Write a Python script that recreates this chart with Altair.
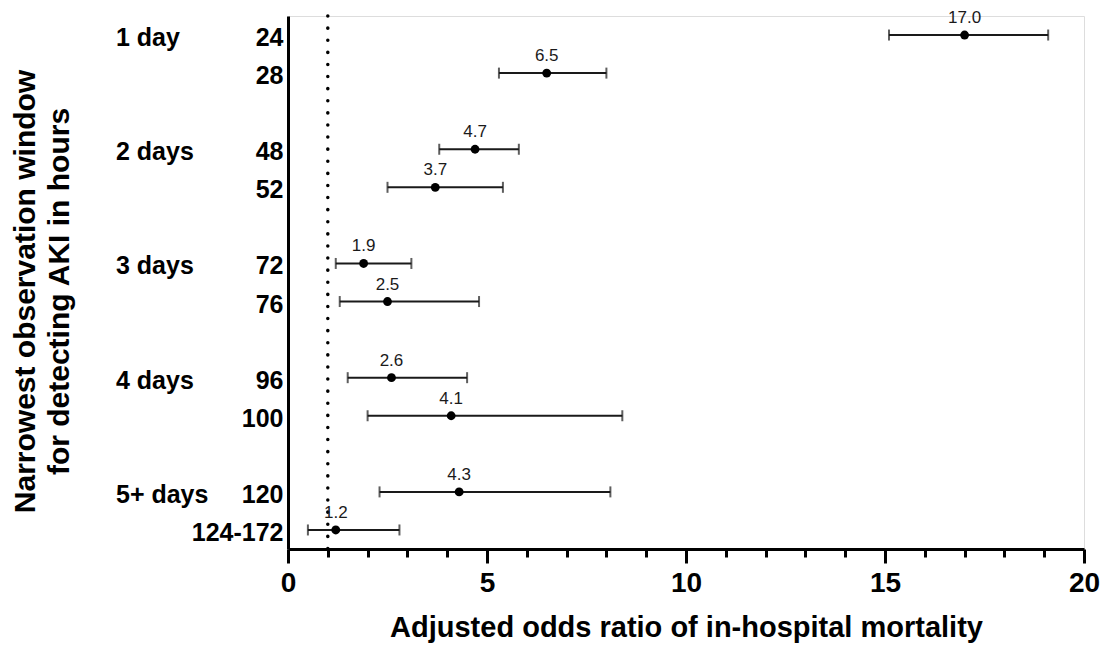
import altair as alt
import pandas as pd

hours = ["24", "28", "48", "52", "72", "76", "96", "100", "120", "124-172"]
odds = [17.0, 6.5, 4.7, 3.7, 1.9, 2.5, 2.6, 4.1, 4.3, 1.2]
lo = [15.1, 5.3, 3.8, 2.5, 1.2, 1.3, 1.5, 2.0, 2.3, 0.5]
hi = [19.1, 8.0, 5.8, 5.4, 3.1, 4.8, 4.5, 8.4, 8.1, 2.8]
row_order = ["24", "28", " ", "48", "52", "  ", "72", "76", "   ", "96", "100", "    ", "120", "124-172"]
group_names = ["1 day", "2 days", "3 days", "4 days", "5+ days"]
group_rows = ["24", "48", "72", "96", "120"]
ref_value = [1]

FONT = "Liberation Sans"

df = pd.DataFrame({"hours": hours, "or": odds, "lo": lo, "hi": hi})
gdf = pd.DataFrame({"name": group_names, "hours": group_rows})
rdf = pd.DataFrame({"x": ref_value})

xscale = alt.Scale(domain=[0, 20], nice=False, zero=True)
yscale = alt.Scale(domain=row_order, paddingInner=0, paddingOuter=0)

x_axis = alt.Axis(
    values=list(range(21)),
    labelExpr="datum.value % 5 === 0 ? datum.label : ''",
    tickSize={"condition": {"test": "datum.value % 5 === 0", "value": 14}, "value": 8},
    tickWidth=3, tickColor="black",
    domainWidth=3, domainColor="black",
    labelFont=FONT, labelFontSize=28, labelFontWeight="bold", labelColor="black",
    labelPadding=6, labelFlush=False,
    title="Adjusted odds ratio of in-hospital mortality",
    titleFont=FONT, titleFontSize=29, titleFontWeight="bold", titleColor="black",
    titlePadding=16, grid=False,
)
y_axis = alt.Axis(
    ticks=False, domainWidth=3, domainColor="black",
    labelFont=FONT, labelFontSize=25, labelFontWeight="bold", labelColor="black",
    labelPadding=5, labelOffset=3,
    title=["Narrowest observation window", "for detecting  AKI in hours"],
    titleFont=FONT, titleFontSize=30, titleFontWeight="bold", titleColor="black",
    titleAngle=-90, titleAlign="center", titleBaseline="top",
    titleX=-278, titleY=275, titleLineHeight=34, grid=False,
)

def X(field):
    return alt.X(field, type="quantitative", scale=xscale, axis=x_axis)

def Y():
    return alt.Y("hours:N", scale=yscale, axis=y_axis, sort=row_order)

base = alt.Chart(df)

ref = alt.Chart(rdf).mark_rule(
    color="black", strokeWidth=3.5, strokeDash=[0.1, 12], strokeCap="round"
).encode(x=X("x"))

bars = base.mark_rule(color="#1a1a1a", strokeWidth=2).encode(x=X("lo"), x2="hi:Q", y=Y())
cap_lo = base.mark_tick(color="#1a1a1a", thickness=2, size=11).encode(x=X("lo"), y=Y())
cap_hi = base.mark_tick(color="#1a1a1a", thickness=2, size=11).encode(x=X("hi"), y=Y())
pts = base.mark_point(filled=True, color="black", size=78, opacity=1).encode(x=X("or"), y=Y())
vals = base.mark_text(font=FONT, fontSize=17, color="#1a1a1a", dy=-17).encode(
    x=X("or"), y=Y(), text=alt.Text("or:Q", format=".1f")
)
groups = alt.Chart(gdf).mark_text(
    font=FONT, fontSize=25, fontWeight="bold", color="black", align="left", dy=3
).encode(x=alt.value(-172), y=Y(), text="name:N")

chart = alt.layer(ref, bars, cap_lo, cap_hi, pts, vals, groups).properties(
    width=796, height=533,
    autosize=alt.AutoSizeParams(type="none"),
    padding={"left": 280, "top": 8, "right": 22, "bottom": 98},
).configure_view(stroke=None).configure(background="white")

chart.save("out.html", embed_options={"renderer": "svg", "actions": False})
